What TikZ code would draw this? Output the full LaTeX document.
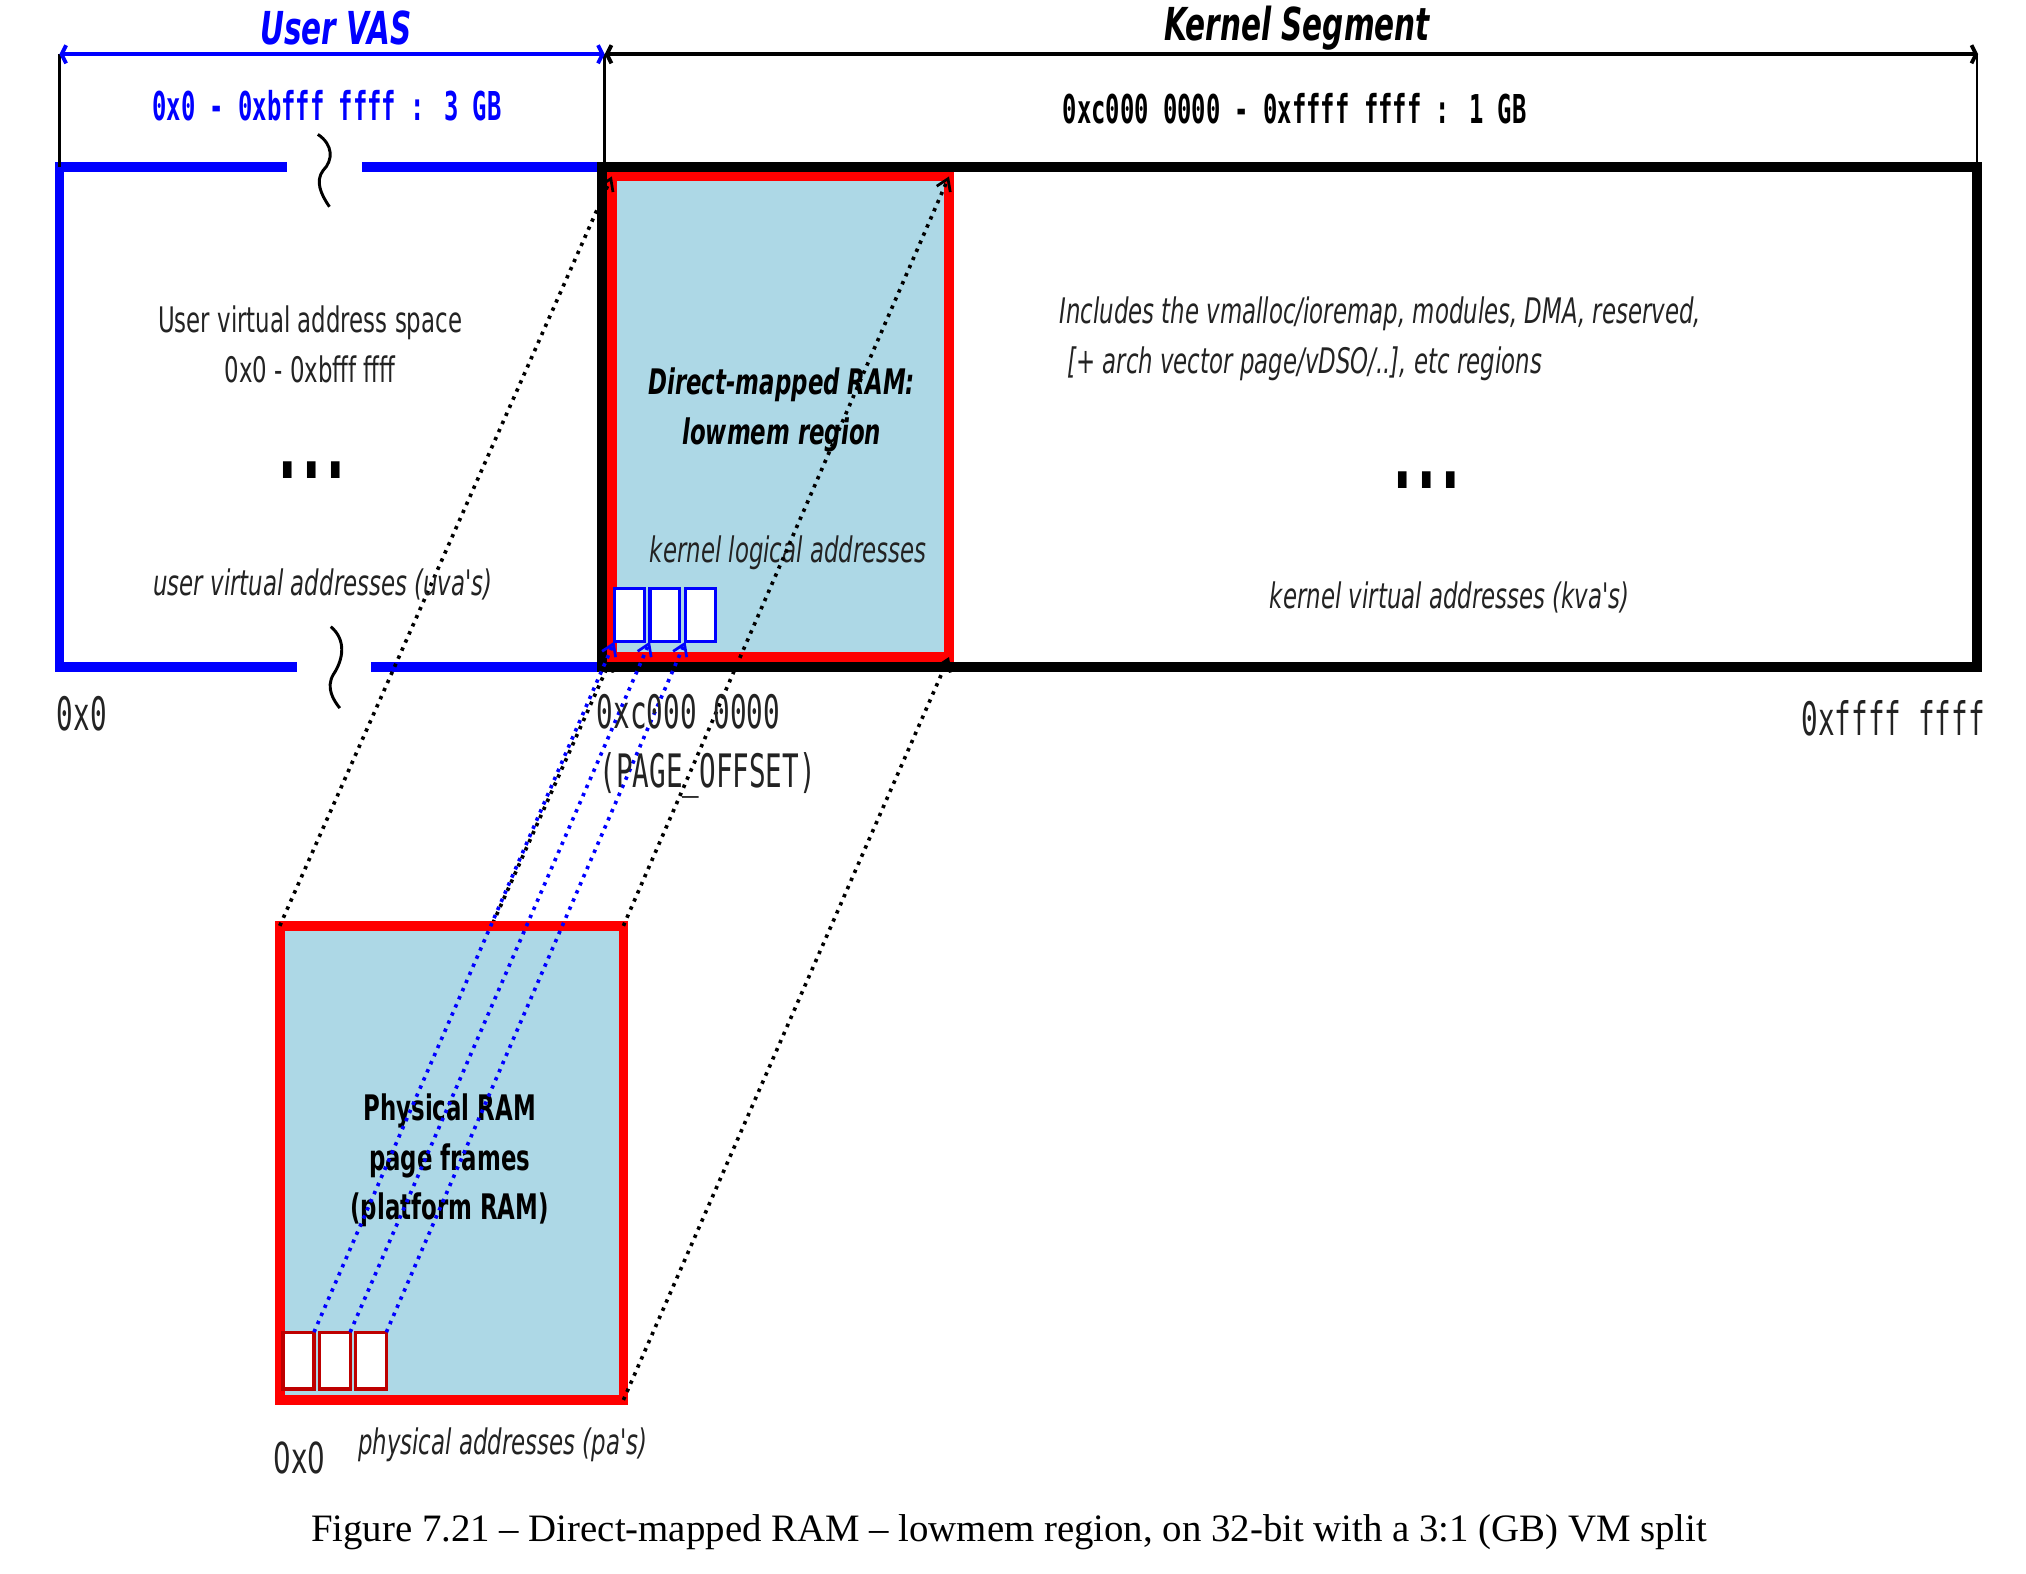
\documentclass[tikz,border=0pt]{standalone}
\usepackage{fontspec}
\usetikzlibrary{arrows.meta}
\newfontfamily\dvs[FakeStretch=0.65]{DejaVu Sans}
\newfontfamily\dvd[FakeStretch=0.55]{DejaVu Sans}
\newfontfamily\dvm[FakeStretch=0.6]{DejaVu Sans Mono}
\newfontfamily\capf{Liberation Serif}
\definecolor{vblue}{RGB}{0,0,255}
\definecolor{vred}{RGB}{255,0,0}
\definecolor{lblue}{RGB}{173,216,230}
\definecolor{dred}{RGB}{190,0,0}
\definecolor{txt}{RGB}{35,35,35}
\pgfdeclarelayer{back}
\pgfdeclarelayer{bg}
\pgfsetlayers{back,bg,main}
\begin{document}
\begin{tikzpicture}[x=0.02cm,y=-0.02cm,
  every node/.style={inner sep=0pt,outer sep=0pt},
  ubox/.style={draw=vblue,line width=4.3pt},
  kbox/.style={draw=black,line width=4.3pt},
  region/.style={draw=vred,fill=lblue,line width=4.2pt},
  frameu/.style={draw=vblue,fill=white,line width=1.4pt,minimum width=0.46cm,minimum height=0.82cm},
  framep/.style={draw=dred,fill=white,line width=1.4pt,minimum width=0.48cm,minimum height=0.88cm},
  dimu/.style={line width=1.7pt,{Straight Barb[length=2pt,width=8pt]}-{Straight Barb[length=2pt,width=8pt]}},
  thinl/.style={line width=1.1pt},
  brk/.style={line width=1.3pt},
  mapar/.style={line width=1.6pt,dash pattern=on 1.5pt off 2.4pt,-{Straight Barb[length=5pt,width=6.5pt,line width=1.2pt]}},
  bmapar/.style={mapar,draw=vblue},
  bodyf/.style={font=\dvs\fontsize{15.5}{22}\selectfont,text=txt},
  bodyi/.style={font=\dvs\itshape\fontsize{15.5}{22}\selectfont,text=txt},
  boldf/.style={font=\dvs\bfseries\fontsize{15.5}{22}\selectfont},
  boldi/.style={font=\dvs\bfseries\itshape\fontsize{15.5}{22}\selectfont},
  titlef/.style={font=\dvs\bfseries\itshape\fontsize{20}{24}\selectfont},
  monob/.style={font=\dvm\bfseries\fontsize{17.5}{22}\selectfont},
  monol/.style={font=\dvm\fontsize{20.3}{24}\selectfont,text=txt},
  dotsf/.style={font=\dvd\bfseries\fontsize{39}{39}\selectfont},
  capst/.style={font=\capf\fontsize{17.1}{20}\selectfont}
]
\begin{pgfonlayer}{back}
\fill[white] (0,0) rectangle (1568,1218);
\end{pgfonlayer}
\useasboundingbox (0,0) rectangle (1568,1218);

% user VAS box (broken lines)
\draw[ubox] (222,129) -- (46,129) -- (46,516) -- (230,516);
\draw[ubox] (280,129) -- (466,129);
\draw[ubox] (287,516) -- (466,516);
% kernel segment box
\node[kbox,minimum width=21.28cm,minimum height=7.74cm] (kern) at (998,322.5) {};

% break marks
\draw[brk] (246,104) .. controls (258,112) and (258,124) .. (250,132) .. controls (244,140) and (248,150) .. (255,160);
\draw[brk] (256,485) .. controls (268,495) and (266,510) .. (258,522) .. controls (252,532) and (258,542) .. (263,548);

% physical RAM
\node[region,minimum width=5.32cm,minimum height=7.34cm] (phys) at (349.5,900) {};
\node[framep] (p1) at (231,1053) {};
\node[framep] (p2) at (259,1053) {};
\node[framep] (p3) at (287,1053) {};
\node[boldf,align=center] (ptxt) at (348,898) {Physical RAM\\page frames\\(platform RAM)};

% lowmem region
\node[region,minimum width=5.22cm,minimum height=7.44cm] (low) at (604,322.5) {};
\node[frameu] (l1) at (487,476) {};
\node[frameu] (l2) at (514.5,476) {};
\node[frameu] (l3) at (542,476) {};
\node[boldi,align=center] (ltxt) at (605,317) {Direct-mapped RAM:\\lowmem region};
\node[bodyi] (klog) at (610,428) {kernel logical addresses};

% mapping arrows
\begin{pgfonlayer}{bg}
\draw[mapar] (phys.south west) -- (low.south west);
\end{pgfonlayer}
\draw[mapar] (phys.north west) -- (low.north west);
\draw[mapar] (phys.north east) -- (low.north east);
\draw[mapar] (phys.south east) -- (low.south east);
\draw[bmapar] (p1.north east) -- (l1.south west);
\draw[bmapar] (p2.north east) -- (l2.south west);
\draw[bmapar] (p3.north east) -- (l3.south west);

% dimension lines
\coordinate (d0) at (46,42);
\coordinate (d1) at (468,42);
\coordinate (d2) at (1531,42);
\coordinate (e0) at (46,129);
\coordinate (e1) at (468,129);
\coordinate (e2) at (1530,129);
\draw[thinl] (d0) -- (e0);
\draw[thinl] (d1) -- (e1);
\draw[thinl] (1530,42) -- (e2);
\draw[dimu,vblue] (d0) -- (d1);
\draw[dimu] (d1) -- (d2);
\node[titlef,text=vblue] (tuser) at (260,22) {User VAS};
\node[titlef] (tkern) at (1004,22) {Kernel Segment};
\node[monob,text=vblue] (ruser) at (253,82) {0x0 - 0xbfff ffff : 3 GB};
\node[monob] (rkern) at (1002,84) {0xc000 0000 - 0xffff ffff : 1 GB};

% user texts
\node[bodyf,align=center] (utxt) at (240,266.5) {User virtual address space\\0x0 - 0xbfff ffff};
\node[dotsf] (udots) at (241.5,364) {.\hspace{2.4pt}.\hspace{2.4pt}.};
\node[bodyi] (uva) at (250,452) {user virtual addresses (uva's)};

% kernel texts
\node[bodyi,align=left,anchor=west] (kinc) at (820,262) {Includes the vmalloc/ioremap, modules, DMA, reserved,\\\hspace*{0.12cm}[+ arch vector page/vDSO/..], etc regions};
\node[dotsf] (kdots) at (1104,371.5) {.\hspace{2.4pt}.\hspace{2.4pt}.};
\node[bodyi] (kva) at (1122,462) {kernel virtual addresses (kva's)};

% address labels
\node[monol,anchor=west] (a0) at (44,552) {0x0};
\node[monol,anchor=west] (ac) at (462,551) {0xc000 0000};
\node[monol,anchor=west] (apo) at (464,600) {(PAGE\_OFFSET)};
\node[monol,anchor=east] (af) at (1536,556) {0xffff ffff};
\node[font=\dvs\fontsize{18.8}{22}\selectfont,text=txt,anchor=west] (pa0) at (212,1128) {0x0};
\node[bodyi] (pas) at (389,1118) {physical addresses (pa's)};

% caption
\node[capst] (cap) at (781,1186) {Figure 7.21 – Direct-mapped RAM – lowmem region, on 32-bit with a 3:1 (GB) VM split};
\end{tikzpicture}
\end{document}
